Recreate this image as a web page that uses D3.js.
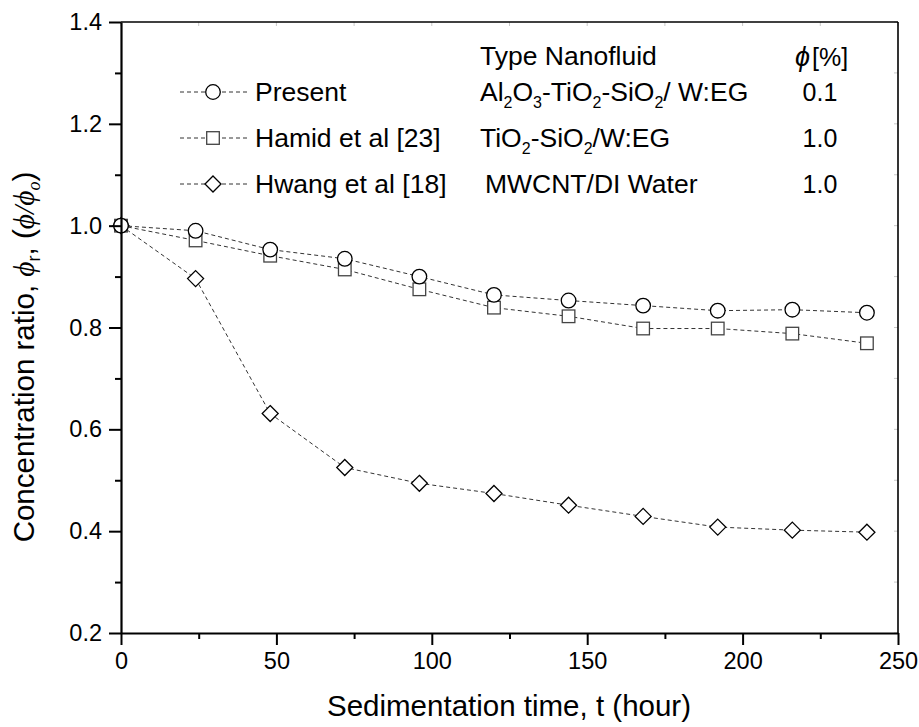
<!DOCTYPE html>
<html><head><meta charset="utf-8">
<script src="https://cdn.jsdelivr.net/npm/d3@7"></script>
<style>body{margin:0;background:#fff}svg{display:block}text{font-family:"Liberation Sans",Arial,sans-serif;fill:#000}</style>
</head><body>
<svg id="c" width="919" height="727"></svg>
<script>
const times = [0, 24, 48, 72, 96, 120, 144, 168, 192, 216, 240];
const present = [1.0, 0.990, 0.953, 0.935, 0.900, 0.864, 0.853, 0.843, 0.833, 0.835, 0.829];
const hamid   = [1.0, 0.971, 0.941, 0.914, 0.875, 0.839, 0.822, 0.798, 0.798, 0.788, 0.769];
const hwang   = [1.0, 0.896, 0.631, 0.525, 0.494, 0.474, 0.451, 0.429, 0.408, 0.402, 0.398];
const xMajor = [0, 50, 100, 150, 200, 250];
const xMinor = [25, 75, 125, 175, 225];
const yMajor = [0.2, 0.4, 0.6, 0.8, 1.0, 1.2, 1.4];
const yMinor = [0.3, 0.5, 0.7, 0.9, 1.1, 1.3];
const seriesNames = ["Present", "Hamid et al [23]", "Hwang et al [18]"];
const phiValues = ["0.1", "1.0", "1.0"];

const svg = d3.select("#c");
const x = d3.scaleLinear().domain([0, 250]).range([121, 898]);
const y = d3.scaleLinear().domain([0.2, 1.4]).range([633, 22]);
const PHI = "\u03D5";

// faint inner ticks on top/right
const g0 = svg.append("g").attr("stroke", "#c8c8c8").attr("stroke-width", 1);
xMajor.concat(xMinor).forEach(v => g0.append("line").attr("x1", x(v)).attr("x2", x(v)).attr("y1", y(1.4)).attr("y2", y(1.4) + 4));
yMajor.concat(yMinor).forEach(v => g0.append("line").attr("x1", x(250)).attr("x2", x(250) - 4).attr("y1", y(v)).attr("y2", y(v)));

// data
const data = [
  {vals: present, sym: "circle", stroke: "#000"},
  {vals: hamid, sym: "square", stroke: "#444"},
  {vals: hwang, sym: "diamond", stroke: "#000"}
];
const line = d3.line().x((d, i) => x(times[i])).y(d => y(d));
function marker(g, type, cx, cy, stroke) {
  if (type === "circle") g.append("circle").attr("cx", cx).attr("cy", cy).attr("r", 7.3).attr("fill", "#fff").attr("stroke", stroke).attr("stroke-width", 1.3);
  else if (type === "square") g.append("rect").attr("x", cx - 6.3).attr("y", cy - 6.3).attr("width", 12.6).attr("height", 12.6).attr("fill", "#fff").attr("stroke", stroke).attr("stroke-width", 1.3);
  else g.append("path").attr("d", `M${cx},${cy-8}L${cx+8},${cy}L${cx},${cy+8}L${cx-8},${cy}Z`).attr("fill", "#fff").attr("stroke", stroke).attr("stroke-width", 1.3);
}
const gl = svg.append("g");
data.forEach(s => {
  gl.append("path").attr("d", line(s.vals)).attr("fill", "none").attr("stroke", "#333").attr("stroke-width", 1).attr("stroke-dasharray", "4,3");
});
data.slice().reverse().forEach(s => {
  s.vals.forEach((v, i) => marker(gl, s.sym, x(times[i]), y(v), s.stroke));
});

// frame top/right
svg.append("line").attr("x1", x(0)).attr("x2", x(250)).attr("y1", y(1.4)).attr("y2", y(1.4)).attr("stroke", "#000").attr("stroke-width", 1.6);
svg.append("line").attr("x1", x(250)).attr("x2", x(250)).attr("y1", y(1.4)).attr("y2", y(0.2)).attr("stroke", "#000").attr("stroke-width", 1.6);

// axes
const xa = svg.append("g").attr("transform", `translate(0,${y(0.2)})`)
  .call(d3.axisBottom(x).tickValues(xMajor).tickSize(12).tickSizeOuter(0).tickPadding(7).tickFormat(d3.format("d")));
const xm = svg.append("g").attr("transform", `translate(0,${y(0.2)})`)
  .call(d3.axisBottom(x).tickValues(xMinor).tickSize(6).tickSizeOuter(0).tickFormat(""));
const ya = svg.append("g").attr("transform", `translate(${x(0)},0)`)
  .call(d3.axisLeft(y).tickValues(yMajor).tickSize(12).tickSizeOuter(0).tickPadding(7).tickFormat(d3.format(".1f")));
const ym = svg.append("g").attr("transform", `translate(${x(0)},0)`)
  .call(d3.axisLeft(y).tickValues(yMinor).tickSize(6).tickSizeOuter(0).tickFormat(""));
[xa, xm, ya, ym].forEach(g => {
  g.select(".domain").attr("stroke-width", 2.2);
  g.selectAll(".tick line").attr("stroke-width", 2);
  g.selectAll("text").attr("font-size", 23.5).attr("font-family", "Liberation Sans, Arial, sans-serif");
});
xm.select(".domain").remove(); ym.select(".domain").remove();

// axis titles
svg.append("text").attr("x", 509).attr("y", 716).attr("text-anchor", "middle").attr("font-size", 29.5)
  .text("Sedimentation time, t (hour)");
const yt = svg.append("text").attr("transform", "translate(34,357) rotate(-90)").attr("text-anchor", "middle").attr("font-size", 29.5);
yt.append("tspan").text("Concentration ratio, ");
yt.append("tspan").attr("font-family", "Liberation Serif, serif").attr("font-style", "italic").text(PHI);
yt.append("tspan").attr("font-size", 18).attr("dy", 6).text("r");
yt.append("tspan").attr("dy", -6).text(", (");
yt.append("tspan").attr("font-family", "Liberation Serif, serif").attr("font-style", "italic").text(PHI + "/" + PHI);
yt.append("tspan").attr("font-size", 18).attr("font-family", "Liberation Serif, serif").attr("font-style", "italic").attr("dy", 6).text("o");
yt.append("tspan").attr("dy", -6).text(")");

// legend
const rowsY = [92, 138, 184];
const lg = svg.append("g");
rowsY.forEach((ry, i) => {
  lg.append("line").attr("x1", 180).attr("x2", 247).attr("y1", ry).attr("y2", ry).attr("stroke", "#333").attr("stroke-width", 1).attr("stroke-dasharray", "4,3");
  marker(lg, data[i].sym, 213, ry, data[i].stroke);
  lg.append("text").attr("x", 255).attr("y", ry + 9).attr("font-size", 26.5).text(seriesNames[i]);
  lg.append("text").attr("x", 820).attr("y", ry + 9).attr("text-anchor", "middle").attr("font-size", 25).text(phiValues[i]);
});
lg.append("text").attr("x", 480).attr("y", 65).attr("font-size", 26.5).text("Type Nanofluid");
const ph = lg.append("text").attr("x", 795).attr("y", 66).attr("font-size", 25).attr("font-family", "Liberation Serif, serif");
ph.append("tspan").attr("font-style", "italic").attr("font-size", 27).text(PHI);
ph.append("tspan").attr("dx", 2).text("[%]");

function chem(xp, yp, parts) {
  const t = lg.append("text").attr("x", xp).attr("y", yp).attr("font-size", 26.5);
  parts.forEach(p => {
    if (p[1]) t.append("tspan").attr("font-size", 16).attr("dy", 7).text(p[0]);
    else t.append("tspan").attr("dy", p[2] ? -7 : 0).text(p[0]);
  });
}
chem(480, rowsY[0] + 9, [["Al"], ["2", 1], ["O", 0, 1], ["3", 1], ["-TiO", 0, 1], ["2", 1], ["-SiO", 0, 1], ["2", 1], ["/ W:EG", 0, 1]]);
chem(480, rowsY[1] + 9, [["TiO"], ["2", 1], ["-SiO", 0, 1], ["2", 1], ["/W:EG", 0, 1]]);
chem(485, rowsY[2] + 9, [["MWCNT/DI Water"]]);
</script>
</body></html>
